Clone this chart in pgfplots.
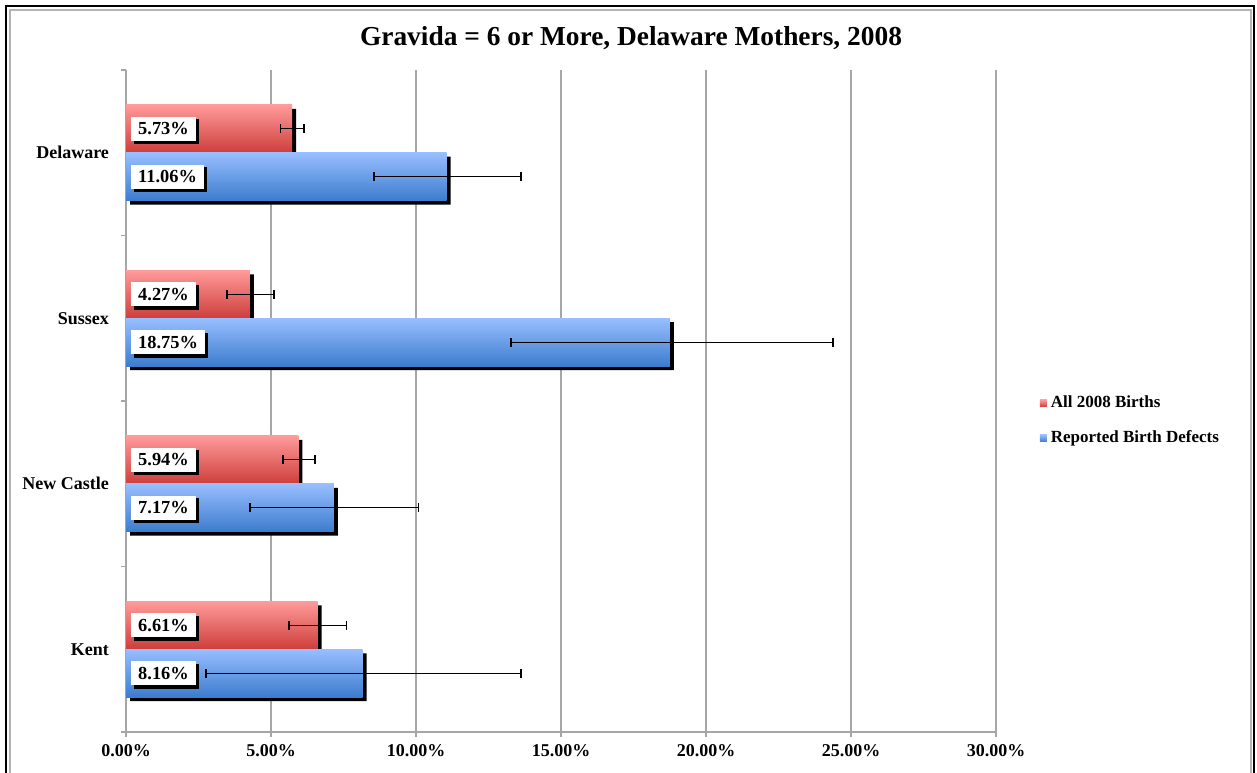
\documentclass[border=0pt]{standalone}
\usepackage{pgfplots}
\pgfplotsset{compat=1.18}
\usepackage{pgfplotstable}
\usepackage{fontspec}
\setmainfont{Liberation Serif}
\usetikzlibrary{shadows}

\definecolor{redtop}{RGB}{255,155,155}
\definecolor{redbot}{RGB}{205,62,58}
\definecolor{bluetop}{RGB}{152,190,255}
\definecolor{bluebot}{RGB}{60,124,205}
\definecolor{gridgray}{RGB}{166,166,166}
\definecolor{framegray}{RGB}{180,180,180}

\pgfplotsset{/pgf/number format/assume math mode=true,
  redbar/.style={xbar, bar width=0.29, bar shift=0.145, draw=none, top color=redtop, bottom color=redbot,
    legend image code/.code={\path[top color=redtop, bottom color=redbot, draw=none] (0pt,-1.75pt) rectangle (3.5pt,1.75pt);}},
  bluebar/.style={xbar, bar width=0.29, bar shift=-0.145, draw=none, top color=bluetop, bottom color=bluebot,
    legend image code/.code={\path[top color=bluetop, bottom color=bluebot, draw=none] (0pt,-1.75pt) rectangle (3.5pt,1.75pt);}},
  shadowbar/.style={forget plot, xbar, bar width=0.29, bar shift=#1, fill=black, draw=none, xshift=2pt, yshift=-2pt},
  errstyle/.style={forget plot, draw=none, mark=none,
    error bars/.cd, x dir=both, x explicit,
    error bar style={draw=black, line width=0.65pt},
    error mark options={draw=black, rotate=90, mark size=2.2pt, line width=0.75pt}},
  labelstyle/.style={forget plot, only marks, mark=none, point meta=explicit,
    nodes near coords={\pgfmathprintnumber[fixed,fixed zerofill,precision=2]{\pgfplotspointmeta}\%},
    every node near coord/.style={anchor=west, xshift=2.5pt, fill=white, text=black,
      font=\bfseries\fontsize{9.2}{10}\selectfont, inner xsep=3.4pt, inner ysep=0pt, minimum height=12pt,
      drop shadow={shadow xshift=1.5pt, shadow yshift=-1.5pt, fill=black, opacity=1}}},
}

\pgfplotstableread{
p v em ep
0 6.61 0.99 1.00
1 5.94 0.53 0.58
2 4.27 0.79 0.83
3 5.73 0.40 0.41
}\allbirths
\pgfplotstableread{
p v em ep
0 8.16 5.40 5.46
1 7.17 2.89 2.92
2 18.75 5.48 5.63
3 11.06 2.50 2.56
}\defects

\begin{document}
\begin{tikzpicture}
\clip (0,0) rectangle (628.5pt,386pt);
\fill[white] (0,0) rectangle (628.5pt,386pt);
\draw[black, line width=1pt] (3pt,-5pt) -- (3pt,383pt) -- (627.2pt,383pt) -- (627.2pt,-5pt);
\draw[framegray, line width=0.8pt] (4.9pt,-5pt) -- (4.9pt,381.1pt) -- (625.4pt,381.1pt) -- (625.4pt,-5pt);
\node[font=\bfseries\fontsize{13.7}{16}\selectfont] at (315.5pt,367pt) {Gravida = 6 or More, Delaware Mothers, 2008};
\begin{axis}[
  at={(63pt,20pt)}, anchor=south west,
  scale only axis, width=435pt, height=331pt,
  xmin=0, xmax=30, ymin=-0.5, ymax=3.5,
  axis x line*=bottom, axis y line*=left,
  axis line style={gridgray, line width=0.8pt},
  xtick={0,5,...,30},
  xticklabel={\pgfmathprintnumber[fixed,fixed zerofill,precision=2]{\tick}\%},
  ytick={-0.5,0.5,1.5,2.5,3.5},
  yticklabels={},
  extra y ticks={0,1,2,3},
  extra y tick labels={Kent,New Castle,Sussex,Delaware},
  extra y tick style={major tick length=0pt, yticklabel style={xshift=-5pt}},
  tick align=outside,
  major tick length=2.5pt,
  tick style={gridgray, line width=0.8pt},
  tick label style={font=\bfseries\fontsize{9}{10}\selectfont},
  xmajorgrids,
  major x grid style={gridgray, line width=0.7pt},
  legend style={at={(1.05,0.47)}, anchor=west, draw=none, fill=none,
    font=\bfseries\fontsize{8.5}{10}\selectfont, row sep=6pt, inner sep=0pt},
  legend cell align=left,
]
% red series: shadows then bars (one bar per plot, so each has its own gradient)
\addplot[shadowbar=0.145] table[x=v,y=p]{\allbirths};
\addplot[redbar] coordinates {(6.61,0)};
\addlegendentry{All 2008 Births}
\addplot[redbar, forget plot] coordinates {(5.94,1)};
\addplot[redbar, forget plot] coordinates {(4.27,2)};
\addplot[redbar, forget plot] coordinates {(5.73,3)};
% blue series
\addplot[shadowbar=-0.145] table[x=v,y=p]{\defects};
\addplot[bluebar] coordinates {(8.16,0)};
\addlegendentry{Reported Birth Defects}
\addplot[bluebar, forget plot] coordinates {(7.17,1)};
\addplot[bluebar, forget plot] coordinates {(18.75,2)};
\addplot[bluebar, forget plot] coordinates {(11.06,3)};
% error bars
\addplot[errstyle] table[x=v, y expr=\thisrow{p}+0.145, x error plus=ep, x error minus=em]{\allbirths};
\addplot[errstyle] table[x=v, y expr=\thisrow{p}-0.145, x error plus=ep, x error minus=em]{\defects};
% value labels
\addplot[labelstyle] table[x expr=0, y expr=\thisrow{p}+0.145, meta=v]{\allbirths};
\addplot[labelstyle] table[x expr=0, y expr=\thisrow{p}-0.145, meta=v]{\defects};
\end{axis}
\end{tikzpicture}
\end{document}
